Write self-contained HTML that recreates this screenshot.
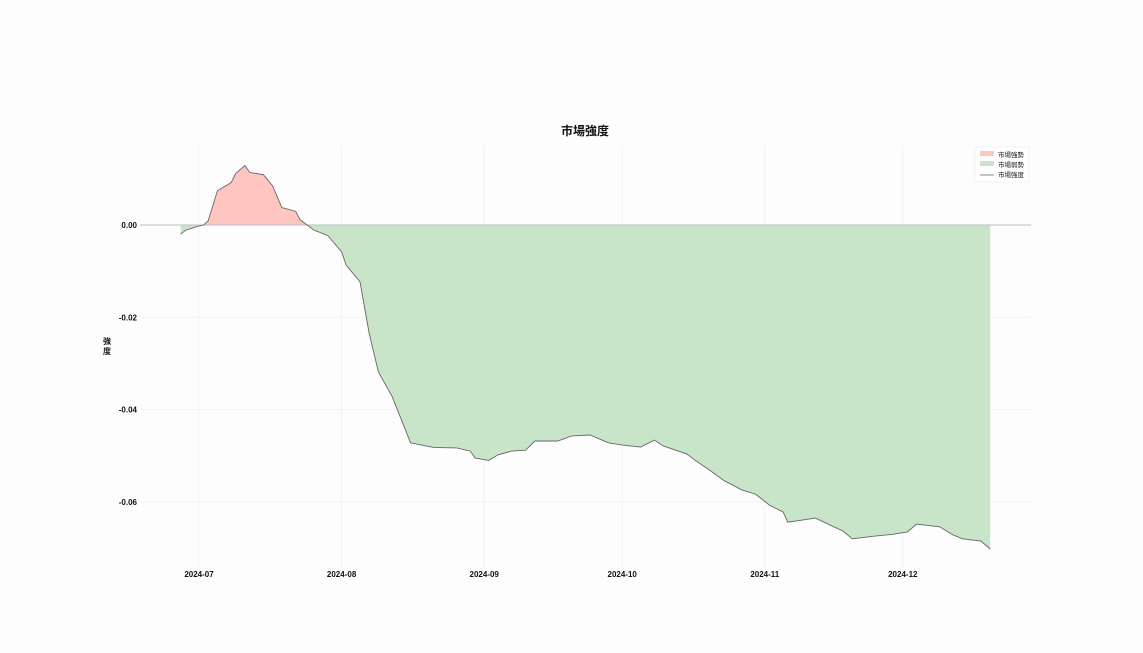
<!DOCTYPE html>
<html><head><meta charset="utf-8">
<style>
html,body{margin:0;padding:0;background:#fdfdfd;}
svg{display:block;font-family:"Liberation Sans","Noto Sans CJK JP",sans-serif;}
</style></head>
<body>
<svg id="chart" width="1143" height="653" viewBox="0 0 1143 653">
<rect width="1143" height="653" fill="#fdfdfd"/>
<text x="585" y="135" text-anchor="middle" font-size="12" font-weight="bold" fill="#111">市場強度</text>
<text x="107" y="344" text-anchor="middle" font-size="8" font-weight="bold" fill="#111"><tspan x="107" dy="0">強</tspan><tspan x="107" dy="10">度</tspan></text>
<g id="grid"></g><g id="fills"></g><g id="axes"></g>
<g>
<rect x="975" y="147" width="54" height="35" fill="#fff" stroke="#eee" stroke-width="0.8" rx="2"/>
<rect x="980" y="151" width="14" height="5" fill="#ffc5c0"/>
<text x="998" y="157" font-size="6.5" fill="#111">市場強勢</text>
<rect x="980" y="161" width="14" height="5" fill="#c9e5c9"/>
<text x="998" y="167" font-size="6.5" fill="#111">市場弱勢</text>
<line x1="980" y1="175" x2="994" y2="175" stroke="#888" stroke-width="1"/>
<text x="998" y="177" font-size="6.5" fill="#111">市場強度</text>
</g>
</svg>
<script>
const dates=["2024-06-27","2024-06-28","2024-06-30","2024-07-02","2024-07-03","2024-07-05","2024-07-08","2024-07-09","2024-07-11","2024-07-12","2024-07-15","2024-07-17","2024-07-19","2024-07-22","2024-07-23","2024-07-26","2024-07-29","2024-08-01","2024-08-02","2024-08-05","2024-08-07","2024-08-09","2024-08-12","2024-08-16","2024-08-21","2024-08-26","2024-08-29","2024-08-30","2024-09-02","2024-09-04","2024-09-07","2024-09-10","2024-09-12","2024-09-15","2024-09-17","2024-09-20","2024-09-24","2024-09-28","2024-10-01","2024-10-05","2024-10-08","2024-10-10","2024-10-15","2024-10-17","2024-10-20","2024-10-23","2024-10-27","2024-10-30","2024-11-02","2024-11-05","2024-11-06","2024-11-12","2024-11-16","2024-11-18","2024-11-20","2024-11-25","2024-11-29","2024-12-02","2024-12-04","2024-12-09","2024-12-12","2024-12-14","2024-12-18","2024-12-20"];
const values=[-0.0020,-0.0012,-0.0005,0.0000,0.0009,0.0074,0.0092,0.0112,0.0129,0.0114,0.0109,0.0085,0.0038,0.0030,0.0011,-0.0011,-0.0023,-0.0058,-0.0087,-0.0123,-0.0235,-0.0318,-0.0372,-0.0472,-0.0482,-0.0483,-0.0490,-0.0505,-0.0510,-0.0498,-0.0490,-0.0488,-0.0468,-0.0468,-0.0468,-0.0457,-0.0455,-0.0472,-0.0477,-0.0481,-0.0466,-0.0479,-0.0496,-0.0511,-0.0531,-0.0553,-0.0574,-0.0583,-0.0607,-0.0622,-0.0644,-0.0635,-0.0654,-0.0663,-0.0680,-0.0674,-0.0670,-0.0665,-0.0648,-0.0654,-0.0672,-0.0680,-0.0685,-0.0702];
const yTicks=[0,-0.02,-0.04,-0.06];
const yTickLabels=["0.00","-0.02","-0.04","-0.06"];
const xTicks=["2024-07-01","2024-08-01","2024-09-01","2024-10-01","2024-11-01","2024-12-01"];
const xTickLabels=["2024-07","2024-08","2024-09","2024-10","2024-11","2024-12"];

const NS="http://www.w3.org/2000/svg";
const L=140,R=1031,T=145,B=568;
const t0=Date.UTC(2024,6,1);
function day(s){const p=s.split("-");return (Date.UTC(+p[0],+p[1]-1,+p[2])-t0)/86400000;}
function X(s){return 199+day(s)*4.6;}
function Y(v){return 225-v*4615;}
function mk(tag,attrs,parent){const e=document.createElementNS(NS,tag);for(const k in attrs)e.setAttribute(k,attrs[k]);parent.appendChild(e);return e;}
const grid=document.getElementById('grid'),fills=document.getElementById('fills'),axes=document.getElementById('axes');
yTicks.forEach((v,i)=>{
  const g=mk('line',{x1:L,x2:R,y1:Y(v),y2:Y(v),stroke:'#f0f0f0','stroke-width':0.8},grid);
  
  
  const t=mk('text',{x:L-3,y:Y(v)+3,'text-anchor':'end','font-size':8,'font-weight':'bold',fill:'#111'},axes);
  t.textContent=yTickLabels[i];
  
  
});
xTicks.forEach((d,i)=>{
  const g=mk('line',{x1:X(d),x2:X(d),y1:T,y2:B,stroke:'#f0f0f0','stroke-width':0.8},grid);
  
  
  const t=mk('text',{x:X(d),y:B+9,'text-anchor':'middle','font-size':8,'font-weight':'bold',fill:'#111'},axes);
  t.textContent=xTickLabels[i];
  
  
});
const defs=mk('defs',{},fills);
mk('rect',{x:0,y:0,width:1143,height:Y(0)},mk('clipPath',{id:'cpPos'},defs));
mk('rect',{x:0,y:Y(0),width:1143,height:653},mk('clipPath',{id:'cpNeg'},defs));
let pts=dates.map((d,i)=>X(d).toFixed(1)+','+Y(values[i]).toFixed(1));
const area='M'+X(dates[0]).toFixed(1)+','+Y(0)+' L'+pts.join(' L')+' L'+X(dates[dates.length-1]).toFixed(1)+','+Y(0)+'Z';
const pos=mk('path',{d:area,fill:'#ffc5c0','clip-path':'url(#cpPos)'},fills);


const neg=mk('path',{d:area,fill:'#c9e5c9','clip-path':'url(#cpNeg)'},fills);


const zl=mk('line',{x1:L,x2:R,y1:Y(0),y2:Y(0),stroke:'#c8c8c8','stroke-width':1.2},fills);


const ln=mk('polyline',{points:pts.join(' '),fill:'none',stroke:'#666','stroke-width':0.9},fills);


</script>
</body></html>
